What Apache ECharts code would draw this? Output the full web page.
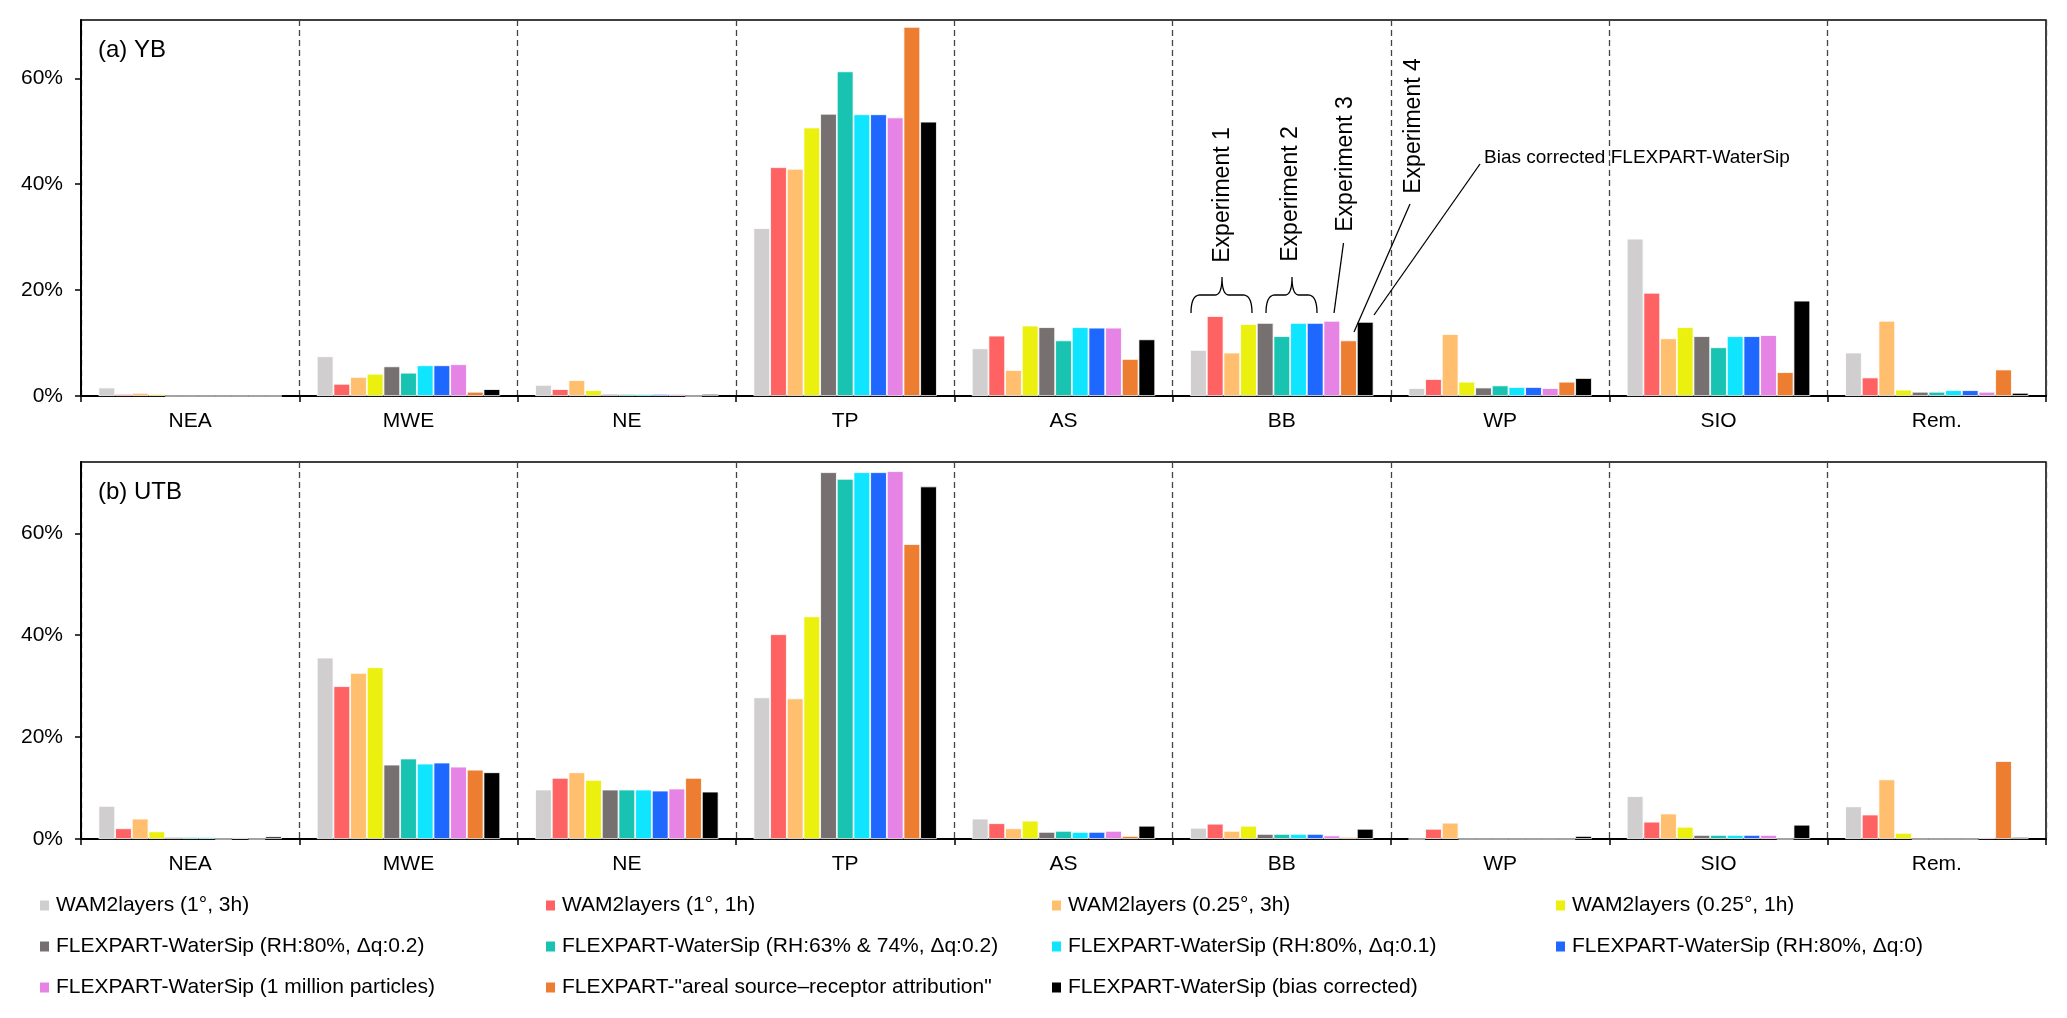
<!DOCTYPE html>
<html>
<head>
<meta charset="utf-8">
<script src="https://cdn.jsdelivr.net/npm/echarts@6/dist/echarts.min.js"></script>
<style>html,body{margin:0;padding:0;background:#fff}#c{width:2067px;height:1018px}</style>
</head>
<body>
<div id="c"></div>
<script>
const categories = ['NEA', 'MWE', 'NE', 'TP', 'AS', 'BB', 'WP', 'SIO', 'Rem.'];
const seriesNames = [
  'WAM2layers (1°, 3h)',
  'WAM2layers (1°, 1h)',
  'WAM2layers (0.25°, 3h)',
  'WAM2layers (0.25°, 1h)',
  'FLEXPART-WaterSip (RH:80%, Δq:0.2)',
  'FLEXPART-WaterSip (RH:63% & 74%, Δq:0.2)',
  'FLEXPART-WaterSip (RH:80%, Δq:0.1)',
  'FLEXPART-WaterSip (RH:80%, Δq:0)',
  'FLEXPART-WaterSip (1 million particles)',
  'FLEXPART-"areal source\u2013receptor attribution"',
  'FLEXPART-WaterSip (bias corrected)'
];
const seriesColors = ['#D0CECE', '#FF6262', '#FFBF6E', '#EBF00F', '#767070', '#18C3B2', '#10E5FF', '#1F68FF', '#E684E6', '#ED7D31', '#000000'];
const yTicks = [0, 20, 40, 60];

// (a) YB, percent per source region
const yb_wam_1_3h    = [1.6, 7.5, 2.1, 31.7, 9.0, 8.7, 1.5, 29.7, 8.2];
const yb_wam_1_1h    = [0.4, 2.3, 1.3, 43.2, 11.4, 15.1, 3.2, 19.5, 3.5];
const yb_wam_025_3h  = [0.6, 3.6, 3.0, 42.9, 4.9, 8.2, 11.7, 10.9, 14.2];
const yb_wam_025_1h  = [0.4, 4.2, 1.1, 50.7, 13.3, 13.6, 2.7, 13.0, 1.2];
const yb_ws_80_02    = [0, 5.6, 0.4, 53.3, 13.0, 13.8, 1.6, 11.3, 0.8];
const yb_ws_6374_02  = [0, 4.4, 0.4, 61.3, 10.5, 11.3, 2.0, 9.2, 0.8];
const yb_ws_80_01    = [0, 5.8, 0.4, 53.2, 13.0, 13.8, 1.7, 11.3, 1.1];
const yb_ws_80_0     = [0, 5.8, 0.4, 53.2, 12.9, 13.8, 1.7, 11.3, 1.1];
const yb_ws_1m       = [0, 6.0, 0.4, 52.6, 12.9, 14.2, 1.5, 11.5, 0.8];
const yb_areal       = [0, 0.8, 0, 69.7, 7.0, 10.5, 2.7, 4.5, 5.0];
const yb_ws_bc       = [0, 1.3, 0.4, 51.8, 10.7, 14.0, 3.4, 18.0, 0.6];

// (b) UTB, percent per source region
const utb_wam_1_3h   = [6.5, 35.6, 9.7, 27.8, 4.0, 2.2, 0, 8.4, 6.4];
const utb_wam_1_1h   = [2.1, 30.0, 12.0, 40.2, 3.1, 3.0, 2.0, 3.4, 4.8];
const utb_wam_025_3h = [4.0, 32.6, 13.1, 27.6, 2.1, 1.6, 3.2, 5.0, 11.7];
const utb_wam_025_1h = [1.5, 33.7, 11.6, 43.7, 3.6, 2.6, 0, 2.4, 1.2];
const utb_ws_80_02   = [0.4, 14.6, 9.7, 72.0, 1.4, 1.0, 0, 0.8, 0];
const utb_ws_6374_02 = [0.4, 15.8, 9.7, 70.7, 1.6, 1.0, 0, 0.8, 0];
const utb_ws_80_01   = [0.4, 14.8, 9.7, 72.0, 1.4, 1.0, 0, 0.8, 0];
const utb_ws_80_0    = [0, 15.0, 9.5, 72.0, 1.4, 1.0, 0, 0.8, 0];
const utb_ws_1m      = [0.3, 14.2, 9.9, 72.2, 1.6, 0.7, 0, 0.8, 0.3];
const utb_areal      = [0, 13.6, 12.0, 57.9, 0.6, 0.4, 0, 0, 15.3];
const utb_ws_bc      = [0.5, 13.1, 9.3, 69.2, 2.6, 2.0, 0.6, 2.8, 0.4];

const ybSeries = [yb_wam_1_3h, yb_wam_1_1h, yb_wam_025_3h, yb_wam_025_1h, yb_ws_80_02, yb_ws_6374_02, yb_ws_80_01, yb_ws_80_0, yb_ws_1m, yb_areal, yb_ws_bc];
const utbSeries = [utb_wam_1_3h, utb_wam_1_1h, utb_wam_025_3h, utb_wam_025_1h, utb_ws_80_02, utb_ws_6374_02, utb_ws_80_01, utb_ws_80_0, utb_ws_1m, utb_areal, utb_ws_bc];

const FONT = '"Liberation Sans", Arial, sans-serif';
const chart = echarts.init(document.getElementById('c'));

function xAxisOf(gi) {
  return {
    type: 'category', gridIndex: gi, data: categories,
    axisLine: { show: true, lineStyle: { color: '#000', width: 2 } },
    axisTick: { show: true, length: 6, lineStyle: { color: '#000', width: 1.5 }, interval: 0 },
    axisLabel: { color: '#000', fontSize: 21, fontFamily: FONT, margin: 15, interval: 0 },
    splitLine: { show: true, interval: 0, lineStyle: { color: '#444', width: 1.3, type: [6, 4] } }
  };
}
function yAxisOf(gi, max) {
  return {
    type: 'value', gridIndex: gi, min: 0, max: max, interval: 20,
    axisLine: { show: true, lineStyle: { color: '#000', width: 2 } },
    axisTick: { show: true, length: 6, lineStyle: { color: '#000', width: 1.5 }, customValues: yTicks },
    axisLabel: { color: '#000', fontSize: 21, fontFamily: FONT, margin: 18, customValues: yTicks,
      formatter: v => (v % 20 === 0 ? v + '%' : '') },
    splitLine: { show: false }
  };
}

const series = [];
[ybSeries, utbSeries].forEach((group, gi) => {
  group.forEach((vals, i) => {
    series.push({
      type: 'bar', name: seriesNames[i], xAxisIndex: gi, yAxisIndex: gi, data: vals,
      barGap: '0%', barCategoryGap: '16%',
      itemStyle: { color: seriesColors[i], borderColor: '#fff', borderWidth: 0.8 },
      emphasis: { disabled: true }, animation: false
    });
  });
});

const legendCols = [[0, 4, 8], [1, 5, 9], [2, 6, 10], [3, 7]];
const legendLefts = [38, 544, 1050, 1554];
const legends = legendCols.map((idx, k) => ({
  orient: 'vertical', left: legendLefts[k], top: 895, padding: 0,
  itemWidth: 11, itemHeight: 12, itemGap: 20, icon: 'rect', selectedMode: false,
  data: idx.map(i => seriesNames[i]),
  textStyle: { color: '#000', fontSize: 21, fontFamily: FONT, lineHeight: 21, padding: [0, 0, 0, 1] }
}));

// sample quadratic bezier segments into polyline points
function quad(p0, c, p1, n) {
  const pts = [];
  for (let k = 0; k <= n; k++) {
    const t = k / n;
    pts.push([(1 - t) * (1 - t) * p0[0] + 2 * (1 - t) * t * c[0] + t * t * p1[0],
              (1 - t) * (1 - t) * p0[1] + 2 * (1 - t) * t * c[1] + t * t * p1[1]]);
  }
  return pts;
}
function brace(x1, x2, xc, yb, ym, yt) {
  let pts = [];
  pts = pts.concat(quad([x1, yb], [x1, ym], [x1 + 9, ym], 10));
  pts = pts.concat(quad([xc - 7, ym], [xc, ym], [xc, yt], 10));
  pts = pts.concat(quad([xc, yt], [xc, ym], [xc + 7, ym], 10));
  pts = pts.concat(quad([x2 - 9, ym], [x2, ym], [x2, yb], 10));
  return { type: 'polyline', z: 100, shape: { points: pts }, style: { stroke: '#000', fill: null, lineWidth: 1.3 } };
}
function vtext(txt, x, y) {
  return { type: 'text', x: x, y: y, rotation: Math.PI / 2, z: 100,
    style: { text: txt, fill: '#000', font: '23px ' + FONT, align: 'center', verticalAlign: 'middle' } };
}
function line(x1, y1, x2, y2) {
  return { type: 'line', z: 100, shape: { x1: x1, y1: y1, x2: x2, y2: y2 }, style: { stroke: '#000', lineWidth: 1.3 } };
}

const graphics = [
  { type: 'text', x: 98, y: 50, z: 100, style: { text: '(a) YB', fill: '#000', font: '24px ' + FONT, verticalAlign: 'middle' } },
  { type: 'text', x: 98, y: 492, z: 100, style: { text: '(b) UTB', fill: '#000', font: '24px ' + FONT, verticalAlign: 'middle' } },
  vtext('Experiment 1', 1223, 195),
  vtext('Experiment 2', 1291, 194),
  vtext('Experiment 3', 1346, 164),
  vtext('Experiment 4', 1414, 126),
  brace(1191, 1252, 1222, 313, 295, 277),
  brace(1266, 1317, 1292, 313, 295, 277),
  line(1343.5, 243, 1334, 313),
  line(1410, 204, 1354, 332),
  line(1480, 164, 1374, 315),
  { type: 'text', x: 1484, y: 158, z: 100, style: { text: 'Bias corrected FLEXPART-WaterSip', fill: '#000', font: '19px ' + FONT, verticalAlign: 'middle' } }
];

chart.setOption({
  animation: false,
  backgroundColor: '#fff',
  grid: [
    { left: 81, right: 21, top: 20, height: 376, show: true, borderColor: '#000', borderWidth: 1.5, backgroundColor: 'transparent' },
    { left: 81, right: 21, top: 462, height: 377, show: true, borderColor: '#000', borderWidth: 1.5, backgroundColor: 'transparent' }
  ],
  xAxis: [xAxisOf(0), xAxisOf(1)],
  yAxis: [yAxisOf(0, 71), yAxisOf(1, 74)],
  legend: legends,
  series: series,
  graphic: graphics
});
</script>
</body>
</html>
